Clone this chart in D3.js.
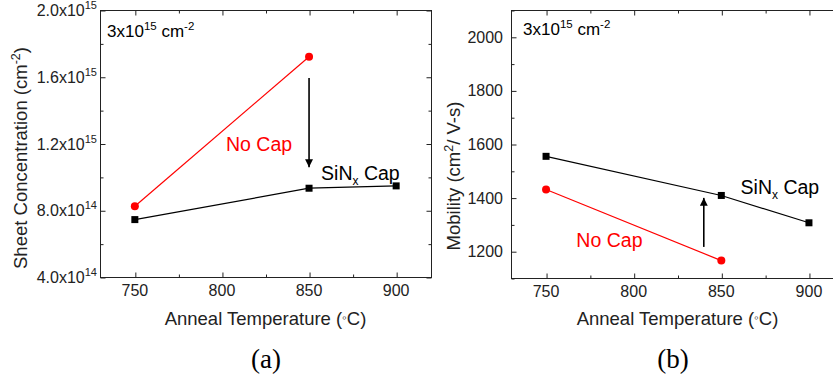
<!DOCTYPE html>
<html>
<head>
<meta charset="utf-8">
<script src="https://cdn.jsdelivr.net/npm/d3@7"></script>
<style>
  body { margin: 0; background: #fff; }
  svg { display: block; font-family: "Liberation Sans", Arial, sans-serif; }
</style>
</head>
<body>
<svg id="chart" width="833" height="385"></svg>
<script>
// anneal temperatures (C)
const temps = [750, 850, 900];
const tempsNoCap = [750, 850];

// (a) sheet concentration, cm^-2
const sheetSiNx = [7.44e14, 9.32e14, 9.46e14];
const sheetNoCap = [8.24e14, 1.72e15];

// (b) mobility, cm^2/V-s
const mobSiNx = [1554, 1408, 1306];
const mobNoCap = [1430, 1165];

// tick labels
const xTicks = [750, 800, 850, 900];
const xMinor = [775, 825, 875];
const sheetTicks = [4e14, 8e14, 1.2e15, 1.6e15, 2e15];
const sheetTickLabels = [["4.0x10", "14"], ["8.0x10", "14"], ["1.2x10", "15"], ["1.6x10", "15"], ["2.0x10", "15"]];
const sheetMinor = [6e14, 1e15, 1.4e15, 1.8e15];
const mobTicks = [1200, 1400, 1600, 1800, 2000];
const mobMinor = [1100, 1300, 1500, 1700, 1900, 2100];

// annotations, placed in data coordinates
const arrowA = { x: 850, from: 1.592e15, to: 1.058e15 };
const arrowB = { x: 840, from: 1216, to: 1399 };

const svg = d3.select("#chart");
const ink = "#222";

svg.append("defs").append("marker")
  .attr("id", "head")
  .attr("viewBox", "0 0 10 10")
  .attr("refX", 10).attr("refY", 5)
  .attr("markerWidth", 5).attr("markerHeight", 5)
  .attr("markerUnits", "strokeWidth")
  .attr("orient", "auto")
  .append("path").attr("d", "M0,0L10,5L0,10Z").attr("fill", "#000");

function drawPanel(p) {
  const g = svg.append("g");
  const x = d3.scaleLinear().domain([730, 920]).range([p.left, p.right]);
  const y = d3.scaleLinear().domain(p.yDomain).range([p.bottom, p.top]);

  // frame
  g.append("rect")
    .attr("x", p.left + 0.5).attr("y", p.top + 0.5)
    .attr("width", p.right - p.left).attr("height", p.bottom - p.top)
    .attr("fill", "none").attr("stroke", ink).attr("stroke-width", 1);

  // inward ticks on all four sides
  function ticks(axis, tr, vals, size) {
    const a = g.append("g").attr("transform", tr)
      .call(axis.tickValues(vals).tickSizeInner(-size).tickSizeOuter(0).tickFormat(""));
    a.select(".domain").remove();
    a.selectAll("line").attr("stroke", ink);
    return a;
  }
  ticks(d3.axisBottom(x), `translate(0.5,${p.bottom + 0.5})`, xTicks, 5);
  ticks(d3.axisBottom(x), `translate(0.5,${p.bottom + 0.5})`, xMinor, 3);
  ticks(d3.axisTop(x), `translate(0.5,${p.top + 0.5})`, xTicks, 5);
  ticks(d3.axisTop(x), `translate(0.5,${p.top + 0.5})`, xMinor, 3);
  ticks(d3.axisLeft(y), `translate(${p.left + 0.5},0.5)`, p.yTicks, 5);
  ticks(d3.axisLeft(y), `translate(${p.left + 0.5},0.5)`, p.yMinor, 3);
  ticks(d3.axisRight(y), `translate(${p.right + 0.5},0.5)`, p.yTicks, 5);
  ticks(d3.axisRight(y), `translate(${p.right + 0.5},0.5)`, p.yMinor, 3);

  // tick labels
  g.selectAll(".xlab").data(xTicks).enter().append("text")
    .attr("x", d => x(d)).attr("y", p.bottom + 19)
    .attr("text-anchor", "middle").attr("font-size", 16).attr("fill", ink)
    .text(d => d);

  const yl = g.selectAll(".ylab").data(p.yTicks).enter().append("text")
    .attr("x", p.left - p.labelGap).attr("y", d => y(d) + 6)
    .attr("text-anchor", "end").attr("font-size", 16).attr("fill", ink);
  yl.each(function(d, i) {
    const t = d3.select(this);
    if (p.yLabels) {
      t.append("tspan").text(p.yLabels[i][0]);
      t.append("tspan").attr("font-size", 11).attr("dy", -7).text(p.yLabels[i][1]);
    } else {
      t.text(d);
    }
  });

  // axis titles
  g.append("text")
    .attr("x", (p.left + p.right) / 2 + p.xTitleShift).attr("y", 325)
    .attr("text-anchor", "middle").attr("font-size", 18.5).attr("fill", ink)
    .call(t => {
      t.append("tspan").text("Anneal Temperature (");
      t.append("tspan").attr("font-size", 13).attr("dy", -3).text("\u25E6");
      t.append("tspan").attr("dy", 3).text("C)");
    });
  const yt = g.append("text")
    .attr("transform", `translate(${p.yTitleX},${p.yTitleY}) rotate(-90)`)
    .attr("text-anchor", "middle").attr("font-size", 18.5).attr("fill", ink);
  p.yTitle(yt);

  // series
  const line = d3.line().x(d => x(d[0])).y(d => y(d[1]));
  const black = d3.zip(temps, p.siNx);
  const red = d3.zip(tempsNoCap, p.noCap);
  g.append("path").datum(black).attr("d", line)
    .attr("fill", "none").attr("stroke", "#000").attr("stroke-width", 1.2);
  g.append("path").datum(red).attr("d", line)
    .attr("fill", "none").attr("stroke", "#ff0000").attr("stroke-width", 1.2);
  g.selectAll(".sq").data(black).enter().append("rect")
    .attr("x", d => x(d[0]) - 3.5).attr("y", d => y(d[1]) - 3.5)
    .attr("width", 7).attr("height", 7).attr("fill", "#000");
  g.selectAll(".dot").data(red).enter().append("circle")
    .attr("cx", d => x(d[0])).attr("cy", d => y(d[1])).attr("r", 4)
    .attr("fill", "#ff0000");

  // arrow
  g.append("line")
    .attr("x1", x(p.arrow.x)).attr("x2", x(p.arrow.x))
    .attr("y1", y(p.arrow.from)).attr("y2", y(p.arrow.to))
    .attr("stroke", "#000").attr("stroke-width", 1.6)
    .attr("marker-end", "url(#head)");

  // labels
  g.append("text")
    .attr("x", x(p.noCapLab[0])).attr("y", y(p.noCapLab[1]))
    .attr("font-size", 19.5).attr("fill", "#ff0000").text("No Cap");
  g.append("text")
    .attr("x", x(p.siNxLab[0])).attr("y", y(p.siNxLab[1]))
    .attr("font-size", 19.5).attr("fill", "#000")
    .call(t => {
      t.append("tspan").text("SiN");
      t.append("tspan").attr("font-size", 12).attr("dy", 5).text("x");
      t.append("tspan").attr("dy", -5).text(" Cap");
    });
  g.append("text")
    .attr("x", p.left + p.doseDx).attr("y", p.top + p.doseDy)
    .attr("font-size", 17).attr("fill", "#000")
    .call(t => {
      t.append("tspan").text("3x10");
      t.append("tspan").attr("font-size", 11.5).attr("dy", -7).text("15");
      t.append("tspan").attr("dy", 7).text(" cm");
      t.append("tspan").attr("font-size", 11.5).attr("dy", -7).text("-2");
    });

  // panel caption
  svg.append("text")
    .attr("x", p.capX).attr("y", 368)
    .attr("text-anchor", "middle")
    .attr("font-family", "'Liberation Serif', 'Times New Roman', serif")
    .attr("font-size", 27).attr("fill", "#000").text(p.caption);
}

drawPanel({
  left: 100, right: 431, top: 10, bottom: 277,
  yDomain: [4e14, 2e15], yTicks: sheetTicks, yMinor: sheetMinor, yLabels: sheetTickLabels,
  labelGap: 3, xTitleShift: 0,
  siNx: sheetSiNx, noCap: sheetNoCap, arrow: arrowA,
  noCapLab: [802.3, 1.154e15], siNxLab: [856.9, 9.84e14],
  doseDx: 7, doseDy: 27,
  yTitleX: 27, yTitleY: 158,
  yTitle: t => {
    t.append("tspan").text("Sheet Concentration (cm");
    t.append("tspan").attr("font-size", 12.5).attr("dy", -7).text("-2");
    t.append("tspan").attr("dy", 7).text(")");
  },
  caption: "(a)", capX: 266
});

drawPanel({
  left: 511, right: 844, top: 10, bottom: 278,
  yDomain: [1100, 2100], yTicks: mobTicks, yMinor: mobMinor, yLabels: null,
  labelGap: 8, xTitleShift: 0,
  siNx: mobSiNx, noCap: mobNoCap, arrow: arrowB,
  noCapLab: [767.3, 1214], siNxLab: [861, 1415],
  doseDx: 12, doseDy: 25,
  yTitleX: 460, yTitleY: 176,
  yTitle: t => {
    t.append("tspan").text("Mobility (cm");
    t.append("tspan").attr("font-size", 12.5).attr("dy", -7).text("2");
    t.append("tspan").attr("dy", 7).text("/ V-s)");
  },
  caption: "(b)", capX: 673
});
</script>
</body>
</html>
